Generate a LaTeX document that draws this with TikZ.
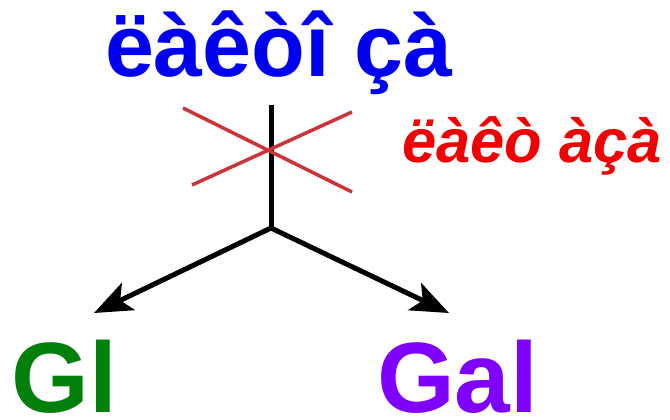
\documentclass[tikz,border=0pt]{standalone}
\usepackage{fontspec}
\setmainfont{Liberation Sans}
\usepackage{xcolor}
\usetikzlibrary{arrows.meta}
\definecolor{labblue}{HTML}{0000F0}
\definecolor{labred}{HTML}{F00000}
\definecolor{crossred}{HTML}{CC3338}
\definecolor{labgreen}{HTML}{00800A}
\definecolor{labpurple}{HTML}{8000FF}
\begin{document}
\begin{tikzpicture}[x=1pt, y=-1pt,
                    lbl/.style={inner sep=0pt, outer sep=0pt, anchor=base west},
                    stem/.style={black, line width=5pt},
                    fork/.style={black, line width=5pt, -{Stealth[length=38pt, width=30pt, inset=9pt]}},
                    strike/.style={crossred, line width=3.5pt}]
\useasboundingbox (0,0) rectangle (670,420);
\node[lbl, text=labblue, font=\fontsize{88}{88}\selectfont\bfseries] (title) at (105,77) {ëàêòî çà};
\node[lbl, text=labred, font=\fontsize{61.5}{61.5}\selectfont\bfseries\itshape] (crossed) at (402,162) {ëàêò àçà};
\node[lbl, text=labgreen, font=\fontsize{100}{100}\selectfont\bfseries] (gl) at (12,412) {Gl};
\node[lbl, text=labpurple, font=\fontsize{100}{100}\selectfont\bfseries] (gal) at (377,412) {Gal};
\coordinate (top) at (271,105);
\coordinate (split) at (271,228);
\coordinate (tipgl) at (94,313);
\coordinate (tipgal) at (449,313);
\draw[stem] (top) -- (split);
\draw[fork] (split) -- (tipgl);
\draw[fork] (split) -- (tipgal);
% the cross over the stem
\draw[strike] (183,108) -- (352,192);
\draw[strike] (352,112) -- (192,185);
\end{tikzpicture}
\end{document}
